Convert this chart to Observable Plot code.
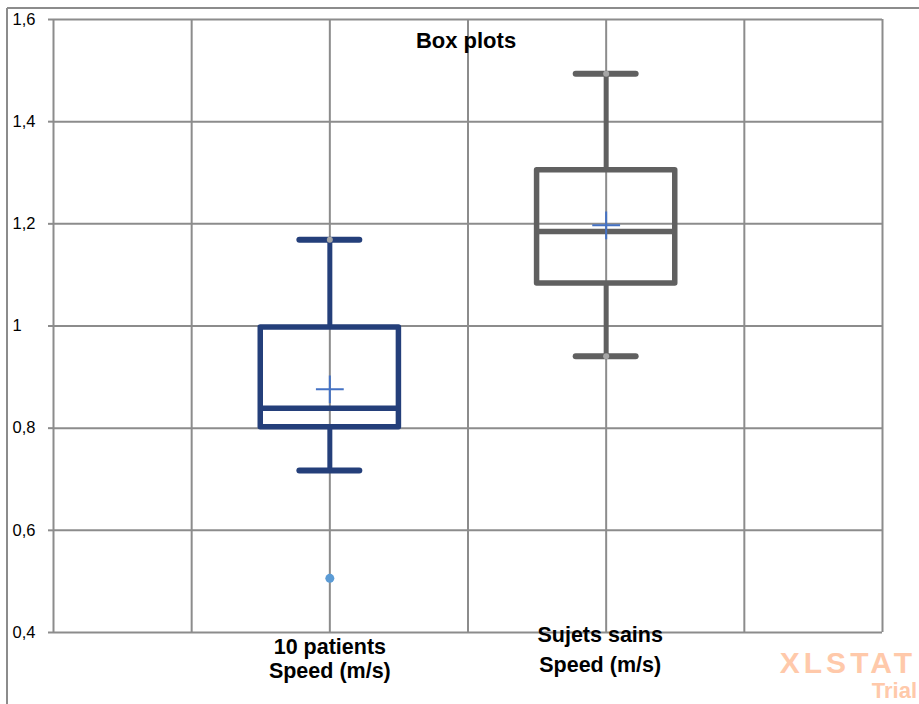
<!DOCTYPE html>
<html>
<head>
<meta charset="utf-8">
<script src="https://cdn.jsdelivr.net/npm/d3@7"></script>
<script src="https://cdn.jsdelivr.net/npm/@observablehq/plot@0.6"></script>
<style>
  html, body { margin: 0; padding: 0; background: #fff; }
  #chart { position: relative; width: 919px; height: 704px; overflow: hidden; }
</style>
</head>
<body>
<div id="chart"></div>
<script>
// ---- data ----
const categories = ["10 patients", "Sujets sains"];
const subLabels = ["Speed (m/s)", "Speed (m/s)"];
const dataMins = [0.506, 0.941];
const whiskerLows = [0.717, 0.941];
const q1s     = [0.802, 1.083];
const medians = [0.839, 1.185];
const q3s     = [0.997, 1.305];
const whiskerHighs = [1.169, 1.494];
const dataMaxs = [1.169, 1.494];
const means   = [0.876, 1.197];
const outliers = [{cat: 0, value: 0.506}];
const yTicks = [0.4, 0.6, 0.8, 1.0, 1.2, 1.4, 1.6];
const gridX = [0, 1, 2, 3, 4, 5, 6];

const colors = ["#243F7A", "#606060"];
const pos = i => 2 * (i + 1);

const boxes = categories.map((c, i) => ({
  cat: c, sub: subLabels[i], pos: pos(i), lo: whiskerLows[i], q1: q1s[i], med: medians[i],
  q3: q3s[i], hi: whiskerHighs[i], min: dataMins[i], max: dataMaxs[i], mean: means[i], color: colors[i]
}));
const outs = outliers.map(o => ({pos: pos(o.cat), value: o.value}));
const fmt = d => d3.format("")(+d.toFixed(1)).replace(".", ",");

const gridColor = "#8c8c8c";
const capHalf = 0.217;
const labelFont = 21.5;

const plot = Plot.plot({
  width: 919,
  height: 704,
  marginLeft: 53,
  marginRight: 37,
  marginTop: 19,
  marginBottom: 72,
  x: {domain: [0, 6], axis: null},
  y: {domain: [0.4, 1.6], axis: null},
  color: {type: "identity"},
  style: {fontFamily: "'Liberation Sans', Arial, sans-serif", background: "white", overflow: "visible"},
  marks: [
    Plot.ruleY(yTicks, {y: d => d, x1: 0, x2: 6, stroke: gridColor, strokeWidth: 2}),
    Plot.ruleX(gridX, {x: d => d, y1: 0.4, y2: 1.6, stroke: gridColor, strokeWidth: 2}),
    Plot.axisY({ticks: yTicks, tickSize: 5, tickFormat: () => "", stroke: gridColor, strokeWidth: 2}),
    Plot.text(yTicks, {x: 0, y: d => d, text: fmt, textAnchor: "start", dx: -41, fontSize: 16.5, fill: "#000"}),
    // whiskers
    Plot.ruleX(boxes, {x: "pos", y1: "q3", y2: "hi", stroke: "color", strokeWidth: 5}),
    Plot.ruleX(boxes, {x: "pos", y1: "lo", y2: "q1", stroke: "color", strokeWidth: 5}),
    // caps
    Plot.ruleY(boxes, {y: "hi", x1: d => d.pos - capHalf, x2: d => d.pos + capHalf, stroke: "color", strokeWidth: 6, strokeLinecap: "round"}),
    Plot.ruleY(boxes, {y: "lo", x1: d => d.pos - capHalf, x2: d => d.pos + capHalf, stroke: "color", strokeWidth: 6, strokeLinecap: "round"}),
    // boxes
    Plot.rect(boxes, {x1: d => d.pos - 0.5, x2: d => d.pos + 0.5, y1: "q1", y2: "q3", fill: "none", stroke: "color", strokeWidth: 5.5, strokeLinejoin: "round"}),
    Plot.ruleY(boxes, {y: "med", x1: d => d.pos - 0.5, x2: d => d.pos + 0.5, stroke: "color", strokeWidth: 5.5}),
    // min/max markers
    Plot.dot(boxes, {x: "pos", y: "max", r: 3, fill: "#A6A6A6", stroke: "none"}),
    Plot.dot(boxes, {x: "pos", y: "min", r: 3, fill: "#A6A6A6", stroke: "none"}),
    // means
    Plot.dot(boxes, {x: "pos", y: "mean", symbol: "plus", r: 9, stroke: "#4472C4", strokeWidth: 2}),
    // outliers
    Plot.dot(outs, {x: "pos", y: "value", r: 4.5, fill: "#5B9BD5", stroke: "none"}),
    // title
    Plot.text(["Box plots"], {frameAnchor: "top", dy: 13, dx: -2, text: d => d, fontSize: 22, fontWeight: "bold", fill: "#000"}),
    // category labels
    Plot.text(boxes.slice(0, 1), {x: "pos", y: 0.4, text: "cat", dy: 15, fontSize: labelFont, fontWeight: "bold", fill: "#000"}),
    Plot.text(boxes.slice(0, 1), {x: "pos", y: 0.4, text: "sub", dy: 39, fontSize: labelFont, fontWeight: "bold", fill: "#000"}),
    Plot.text(boxes.slice(1, 2), {x: "pos", y: 0.4, text: "cat", dy: 3, dx: -6, fontSize: labelFont, fontWeight: "bold", fill: "#000"}),
    Plot.text(boxes.slice(1, 2), {x: "pos", y: 0.4, text: "sub", dy: 33, dx: -6, fontSize: labelFont, fontWeight: "bold", fill: "#000"})
  ]
});

const svg = d3.select(plot);
// outer chart frame (top and left)
svg.append("line").attr("x1", 7).attr("x2", 919).attr("y1", 8).attr("y2", 8).attr("stroke", gridColor).attr("stroke-width", 2);
svg.append("line").attr("x1", 7).attr("x2", 7).attr("y1", 8).attr("y2", 704).attr("stroke", gridColor).attr("stroke-width", 2);
// watermark
svg.append("text").attr("x", 916).attr("y", 673).attr("text-anchor", "end")
  .attr("font-family", "'Liberation Sans', Arial, sans-serif").attr("font-weight", "bold")
  .attr("font-size", 30).attr("letter-spacing", 4).attr("fill", "#FFC9AA").text("XLSTAT");
svg.append("text").attr("x", 917).attr("y", 698).attr("text-anchor", "end")
  .attr("font-family", "'Liberation Sans', Arial, sans-serif").attr("font-weight", "bold")
  .attr("font-size", 22).attr("fill", "#FFC9AA").text("Trial");

document.getElementById("chart").appendChild(plot);
</script>
</body>
</html>
